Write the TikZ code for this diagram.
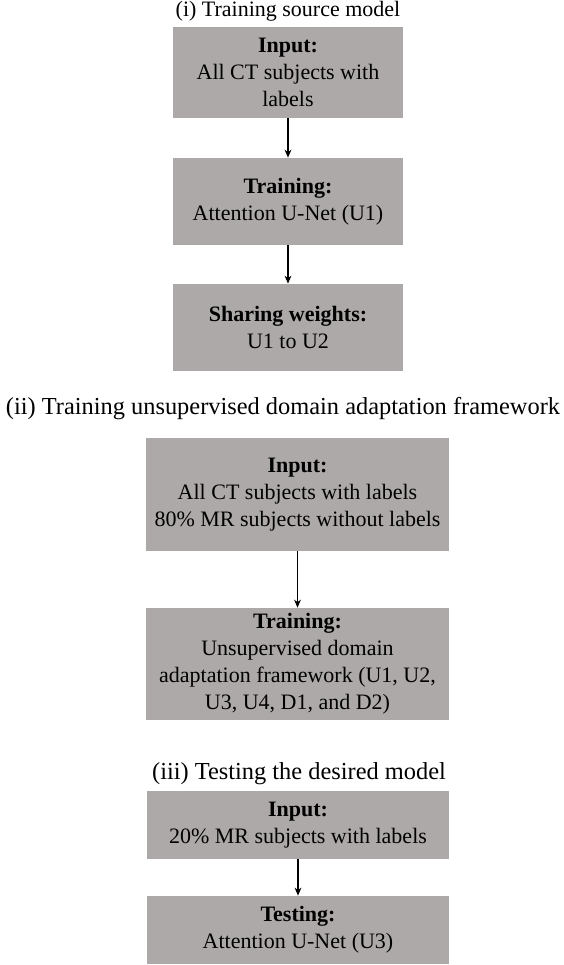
\documentclass[tikz,border=0pt]{standalone}
\usepackage{fontspec}
\setmainfont{Liberation Serif}
\usetikzlibrary{arrows.meta}
\definecolor{boxgray}{RGB}{173,169,168}
\begin{document}
\begin{tikzpicture}[x=0.5pt,y=-0.5pt,
  font=\fontsize{11}{13.5}\selectfont,
  stepbox/.style={fill=boxgray, draw=none, align=center, inner sep=0pt,
    minimum width=#1},
  stepbox/.default=115pt,
  flow/.style={draw=black, line width=0.55pt, -{Stealth[length=4pt,width=3.4pt]}},
  heading/.style={inner sep=0pt, anchor=center},
  bigheading/.style={heading, font=\fontsize{12.2}{14}\selectfont}]
\useasboundingbox (0,0) rectangle (563,965);

% (i) source model
\node[heading] (t1) at (288,11) {(i) Training source model};
\node[stepbox, minimum height=45.5pt] (b1) at (288,72.5)
  {\textbf{Input:}\\All CT subjects with\\labels};
\node[stepbox, minimum height=43.5pt] (b2) at (288,201.5)
  {\textbf{Training:}\\Attention U-Net (U1)};
\node[stepbox, minimum height=43.5pt] (b3) at (288,327.5)
  {\textbf{Sharing weights:}\\U1 to U2};
\draw[flow] (b1.south) -- (b2.north);
\draw[flow] (b2.south) -- (b3.north);

% (ii) domain adaptation
\node[bigheading] (t2) at (283,409) {(ii) Training unsupervised domain adaptation framework};
\node[stepbox=151.5pt, minimum height=56.5pt] (b4) at (297.5,494.5)
  {\textbf{Input:}\\All CT subjects with labels\\80\% MR subjects without labels};
\node[stepbox=151.5pt, minimum height=56pt] (b5) at (297.5,664)
  {\textbf{Training:}\\Unsupervised domain\\adaptation framework (U1, U2,\\U3, U4, D1, and D2)};
\draw[flow] (b4.south) -- (b5.north);

% (iii) testing
\node[bigheading] (t3) at (299,774) {(iii) Testing the desired model};
\node[stepbox=151pt, minimum height=34pt] (b6) at (298,825)
  {\textbf{Input:}\\20\% MR subjects with labels};
\node[stepbox=151pt, minimum height=34pt] (b7) at (298,930)
  {\textbf{Testing:}\\Attention U-Net (U3)};
\draw[flow] (b6.south) -- (b7.north);
\end{tikzpicture}
\end{document}
